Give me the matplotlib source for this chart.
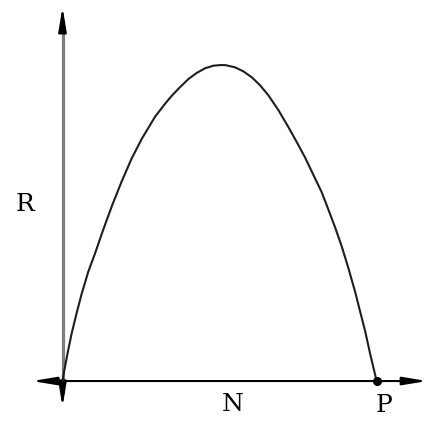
import matplotlib
matplotlib.use("Agg")
import matplotlib.pyplot as plt

# Curve (N normalised so that P = 1, R normalised to peak = 1)
N_vals = [0.0, 0.0025, 0.0166, 0.029, 0.045, 0.061, 0.082, 0.104, 0.130, 0.158, 0.1885,
          0.220, 0.252, 0.295, 0.326, 0.348, 0.374, 0.401, 0.427, 0.454, 0.480, 0.502,
          0.518, 0.549, 0.576, 0.603, 0.629, 0.655, 0.687, 0.719, 0.746, 0.772, 0.799,
          0.825, 0.841, 0.857, 0.868, 0.889, 0.910, 0.932, 0.947, 0.964, 0.979, 1.0]
R_vals = [0.0, 0.017, 0.090, 0.150, 0.215, 0.276, 0.346, 0.405, 0.480, 0.556, 0.632,
          0.704, 0.766, 0.837, 0.877, 0.903, 0.930, 0.956, 0.975, 0.990, 0.998, 1.0,
          1.0, 0.993, 0.980, 0.961, 0.936, 0.905, 0.858, 0.804, 0.756, 0.708, 0.652,
          0.598, 0.557, 0.515, 0.486, 0.426, 0.358, 0.281, 0.222, 0.156, 0.088, 0.0]
P_point = (1.0, 0.0)
labels = {"R": "R", "N": "N", "P": "P"}

fig = plt.figure(figsize=(4.30, 4.24), dpi=100)
ax = fig.add_axes([0, 0, 1, 1])
ax.set_xlim(-0.199, 1.170)
ax.set_ylim(-0.136, 1.206)
ax.axis("off")

head = "head_length=1.45,head_width=0.24"

# vertical axis (gray shaft, black heads)
y_top, y_bot = 1.184, -0.082
ax.plot([0, 0], [y_bot + 0.04, y_top - 0.04], color="#7d7d7d", lw=2.3,
        solid_capstyle="butt", zorder=1)
for tip, base in [(y_top, y_top - 0.07), (y_bot, y_bot + 0.07)]:
    ax.annotate("", xy=(0, tip), xytext=(0, base),
                arrowprops=dict(arrowstyle="-|>," + head, mutation_scale=10, lw=1.5,
                                color="black", shrinkA=0, shrinkB=0), zorder=2)

# horizontal axis
x_left, x_right = -0.097, 1.161
ax.annotate("", xy=(x_right, 0), xytext=(x_left, 0),
            arrowprops=dict(arrowstyle="<|-|>," + head, mutation_scale=10, lw=1.5,
                            color="black", shrinkA=0, shrinkB=0), zorder=2)

# curve
ax.plot(N_vals, R_vals, color="#1e1e1e", lw=1.5, solid_joinstyle="round", zorder=3)
ax.plot([P_point[0]], [P_point[1]], "o", color="black", ms=5.5, zorder=4)

fs = 18
ax.text(-0.12, 0.560, labels["R"], fontsize=fs, family="DejaVu Serif", ha="center", va="center")
ax.text(0.543, -0.073, labels["N"], fontsize=fs, family="DejaVu Serif", ha="center", va="center")
ax.text(1.024, -0.076, labels["P"], fontsize=fs, family="DejaVu Serif", ha="center", va="center")

fig.savefig("out.png", dpi=100)
